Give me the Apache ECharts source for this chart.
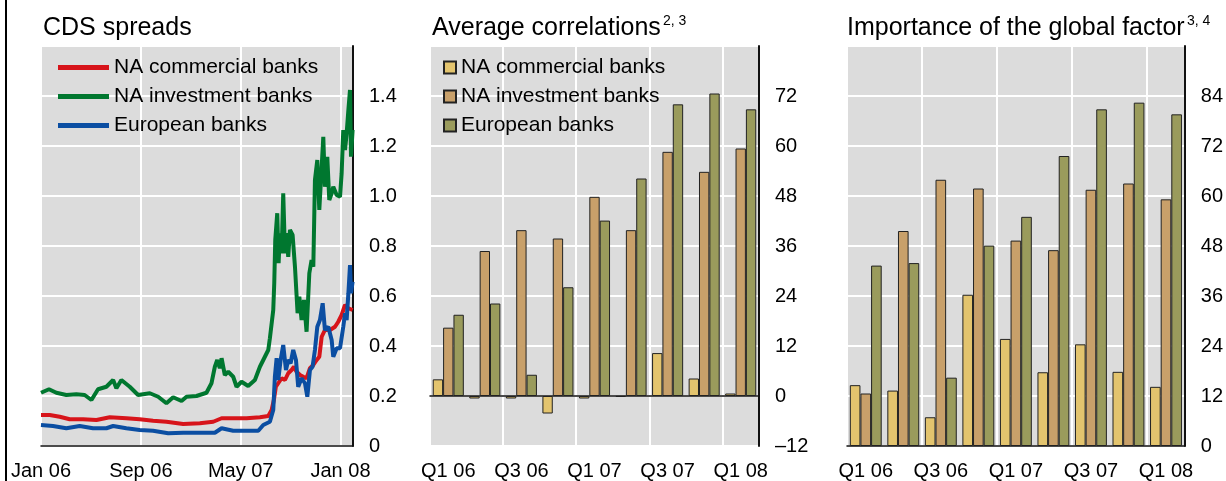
<!DOCTYPE html>
<html><head><meta charset="utf-8">
<script src="https://cdn.jsdelivr.net/npm/echarts@6/dist/echarts.min.js"></script>
<style>html,body{margin:0;padding:0;background:#fff}#c{width:1226px;height:481px}</style>
</head><body><div id="c"></div>
<script>
// ---- Data ----
const seriesNames = ['NA commercial banks', 'NA investment banks', 'European banks'];
// CDS spreads: x = months since Jan 2006
const xTickLabels = {0: 'Jan 06', 8: 'Sep 06', 16: 'May 07', 24: 'Jan 08'};
const commMonths = [0,0.70,1.50,2.30,3.37,4.44,5.51,6.84,7.91,8.98,10.05,11.39,12.73,13.80,14.47,15.40,16.47,17.54,18.21,18.48,18.66,18.82,19.01,19.28,19.55,19.81,20.08,20.27,20.48,20.75,21.02,21.28,21.55,21.82,22.09,22.30,22.49,22.75,23.16,23.56,23.82,24.09,24.36,24.63,24.97];
const commCDS = [0.124,0.124,0.117,0.107,0.107,0.104,0.115,0.111,0.107,0.101,0.097,0.088,0.091,0.097,0.111,0.111,0.111,0.115,0.12,0.144,0.184,0.237,0.251,0.271,0.264,0.291,0.304,0.317,0.297,0.284,0.277,0.271,0.311,0.324,0.344,0.357,0.437,0.464,0.464,0.477,0.497,0.524,0.564,0.551,0.544];
const invMonths = [0,0.64,1.23,2.03,2.83,3.50,4.04,4.57,5.24,5.78,6.04,6.44,7.11,7.78,8.72,9.39,10.05,10.59,11.26,11.66,12.46,13.26,13.66,13.93,14.12,14.33,14.47,14.73,15.00,15.40,15.67,16.07,16.60,17.14,17.54,17.94,18.21,18.34,18.61,18.69,18.77,18.93,19.04,19.14,19.28,19.41,19.55,19.68,19.81,19.95,20.16,20.35,20.56,20.70,20.88,21.07,21.28,21.50,21.68,21.82,21.95,22.14,22.30,22.49,22.62,22.75,22.94,23.10,23.29,23.42,23.69,23.96,24.09,24.22,24.36,24.49,24.63,24.76,24.84,24.97];
const invCDS = [0.213,0.227,0.213,0.204,0.207,0.204,0.184,0.227,0.237,0.264,0.231,0.264,0.237,0.204,0.211,0.197,0.171,0.195,0.18,0.197,0.2,0.213,0.251,0.317,0.344,0.311,0.351,0.284,0.297,0.277,0.237,0.257,0.24,0.264,0.317,0.357,0.384,0.431,0.544,0.651,0.824,0.931,0.731,0.851,0.771,1.011,0.771,0.851,0.757,0.864,0.844,0.717,0.531,0.597,0.504,0.584,0.457,0.691,0.744,0.717,1.064,1.144,0.944,1.117,1.237,1.037,1.157,0.984,1.011,1.037,1.004,0.997,1.091,1.264,1.184,1.25,1.344,1.424,1.157,1.264];
const euMonths = [0,0.96,2.03,3.10,4.17,5.24,5.78,6.84,7.91,8.98,10.19,11.39,12.73,13.93,14.47,15.40,16.47,17.41,17.81,18.34,18.61,18.74,18.88,19.01,19.20,19.41,19.63,19.81,20.00,20.21,20.43,20.61,20.88,21.15,21.34,21.55,21.76,21.95,22.14,22.35,22.57,22.75,23.02,23.29,23.42,23.69,23.96,24.22,24.36,24.49,24.63,24.76,24.84,24.97];
const euCDS = [0.084,0.08,0.071,0.08,0.071,0.071,0.08,0.071,0.064,0.061,0.051,0.053,0.053,0.053,0.071,0.061,0.061,0.061,0.084,0.097,0.144,0.277,0.351,0.264,0.344,0.404,0.304,0.344,0.331,0.384,0.344,0.237,0.271,0.251,0.197,0.304,0.317,0.384,0.477,0.504,0.571,0.464,0.477,0.424,0.357,0.391,0.391,0.477,0.531,0.504,0.611,0.724,0.611,0.657];
// Quarterly bar panels
const quarters = ['Q1 06','Q2 06','Q3 06','Q4 06','Q1 07','Q2 07','Q3 07','Q4 07','Q1 08'];
const corrComm = [4.0,-0.6,-0.6,-4.2,-0.6,-0.2,10.3,4.2,0.6];
const corrInv = [16.4,34.8,39.8,37.8,47.8,39.8,58.6,53.8,59.4];
const corrEu = [19.5,22.2,5.1,26.1,42.1,52.2,70.0,72.6,68.8];
const globComm = [14.6,13.3,6.9,36.3,25.7,17.7,24.4,17.8,14.2];
const globInv = [12.6,51.6,63.9,61.8,49.3,47.0,61.5,63.0,59.2];
const globEu = [43.3,43.9,16.4,48.1,55.0,69.6,80.8,82.4,79.6];

// ---- Styles ----
const FONT = '"Liberation Sans", Arial, sans-serif';
const lineColors = ['#D7141A', '#00772F', '#0B4EA2'];
const barColors = ['#E3C46E', '#C8A06A', '#9A9B5C'];
const BG = '#DCDCDC';
const tickFont = {color: '#000', fontSize: 20, fontFamily: FONT};

function zip(a, b) { return a.map((v, i) => [v, b[i]]); }
const cdsData = [zip(commMonths, commCDS), zip(invMonths, invCDS), zip(euMonths, euCDS)];
const corrData = [corrComm, corrInv, corrEu];
const globData = [globComm, globInv, globEu];

const grids = [
  {left: 41, top: 46, width: 312, height: 400},
  {left: 430, top: 46, width: 329, height: 400},
  {left: 847, top: 46, width: 340, height: 400}
].map(g => Object.assign(g, {show: true, backgroundColor: BG, borderColor: '#333', borderWidth: 1}));

const splitLineStyle = {show: true, lineStyle: {color: '#fff', width: 2}};

function yAxis(gi, min, max, interval, fmt) {
  return {
    type: 'value', gridIndex: gi, position: 'right', min: min, max: max, interval: interval,
    axisLine: {show: true, onZero: false, lineStyle: {color: '#111', width: 2}},
    axisTick: {show: false},
    splitLine: splitLineStyle,
    axisLabel: Object.assign({margin: 16, showMaxLabel: false, formatter: fmt}, tickFont)
  };
}
function catAxis(gi) {
  return {
    type: 'category', gridIndex: gi, data: quarters,
    axisLine: {show: true, onZero: true, lineStyle: {color: '#111', width: 1.5}},
    axisTick: {show: false, interval: 1},
    splitLine: Object.assign({interval: 1}, splitLineStyle),
    axisLabel: Object.assign({interval: 1, margin: 15}, tickFont)
  };
}

const series = [];
seriesNames.forEach((n, i) => series.push({
  name: n, type: 'line', xAxisIndex: 0, yAxisIndex: 0, data: cdsData[i],
  showSymbol: false, symbol: 'none', lineStyle: {width: 4, color: lineColors[i]}, itemStyle: {color: lineColors[i]},
  silent: true, animation: false
}));
seriesNames.forEach((n, i) => series.push({
  name: 'm:' + n, type: 'bar', xAxisIndex: 1, yAxisIndex: 1, data: corrData[i],
  barGap: 0, barCategoryGap: '15%',
  itemStyle: {color: barColors[i], borderColor: '#222', borderWidth: 1}, animation: false
}));
seriesNames.forEach((n, i) => series.push({
  name: 'g:' + n, type: 'bar', xAxisIndex: 2, yAxisIndex: 2, data: globData[i],
  barGap: 0, barCategoryGap: '15%',
  itemStyle: {color: barColors[i], borderColor: '#222', borderWidth: 1}, animation: false
}));

const titleStyle = {color: '#000', fontSize: 25, fontWeight: 'normal', fontFamily: FONT};
const supStyle = {color: '#000', fontSize: 14, fontWeight: 'normal', fontFamily: FONT};

const option = {
  animation: false,
  backgroundColor: '#fff',
  title: [
    {text: 'CDS spreads', left: 43, top: 16, padding: 0, textStyle: titleStyle},
    {text: 'Average correlations', left: 432, top: 16, padding: 0, textStyle: titleStyle},
    {text: '2, 3', left: 663, top: 14, padding: 0, textStyle: supStyle},
    {text: 'Importance of the global factor', left: 847, top: 16, padding: 0, textStyle: titleStyle},
    {text: '3, 4', left: 1187, top: 14, padding: 0, textStyle: supStyle}
  ],
  legend: [
    {data: seriesNames, left: 58, top: 57, orient: 'vertical', itemWidth: 51, itemHeight: 5, itemGap: 8,
     icon: 'rect', selectedMode: false, padding: 0,
     textStyle: {color: '#000', fontSize: 21, fontFamily: FONT, lineHeight: 21}},
    {data: seriesNames.map(n => 'm:' + n), left: 443, top: 57, orient: 'vertical', itemWidth: 12, itemHeight: 12, itemGap: 8,
     icon: 'rect', selectedMode: false, padding: 0, formatter: n => n.slice(2),
     textStyle: {color: '#000', fontSize: 21, fontFamily: FONT, lineHeight: 21}}
  ],
  grid: grids,
  xAxis: [
    {type: 'value', gridIndex: 0, min: 0, max: 25, interval: 8,
     axisLine: {show: true, onZero: false, lineStyle: {color: '#111', width: 1.5}},
     axisTick: {show: false}, splitLine: splitLineStyle,
     axisLabel: Object.assign({margin: 15, showMaxLabel: true, formatter: v => xTickLabels[v] || ''}, tickFont)},
    catAxis(1), catAxis(2)
  ],
  yAxis: [
    yAxis(0, 0, 1.6, 0.2, v => v === 0 ? '0' : v.toFixed(1)),
    yAxis(1, -12, 84, 12, v => v < 0 ? '\u2013' + Math.abs(v) : String(v)),
    yAxis(2, 0, 96, 12, v => String(v))
  ],
  graphic: [
    {type: 'rect', shape: {x: 5, y: 0, width: 2, height: 481}, style: {fill: '#000'}, silent: true}
  ],
  series: series
};
const chart = echarts.init(document.getElementById('c'), null, {renderer: 'canvas'});
chart.setOption(option);
</script></body></html>
